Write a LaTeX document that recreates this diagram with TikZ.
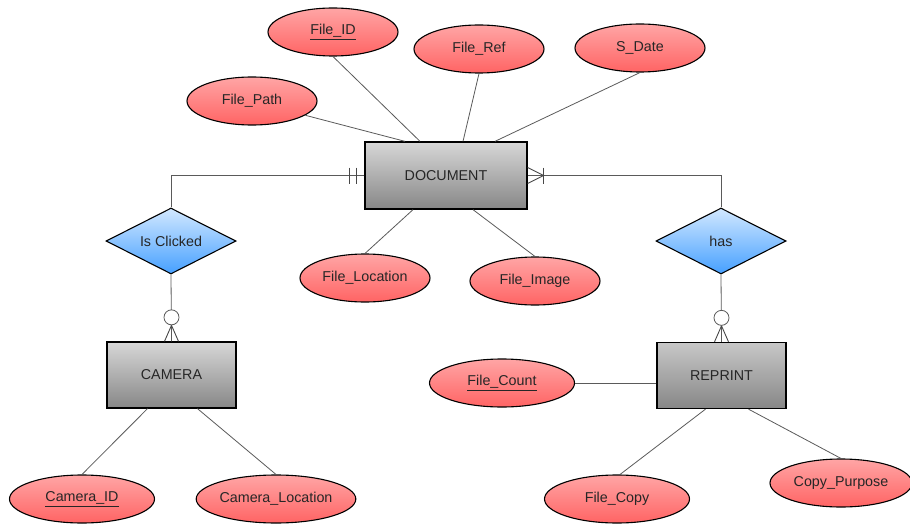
\documentclass[tikz,border=0pt]{standalone}
\usepackage{fontspec}
\setmainfont{Liberation Sans}
\usetikzlibrary{shapes.geometric,calc}

\definecolor{attrtop}{RGB}{255,165,165}
\definecolor{attrbot}{RGB}{255,100,100}
\definecolor{enttop}{RGB}{215,215,215}
\definecolor{entbot}{RGB}{135,135,135}
\definecolor{reltop}{RGB}{210,232,255}
\definecolor{relbot}{RGB}{70,160,255}
\definecolor{wire}{RGB}{90,90,90}

\begin{document}
\begin{tikzpicture}[x=1pt,y=-1pt,
  lbl/.style={font=\fontsize{14.3}{16}\selectfont, text=black!85},
  attr/.style={lbl, ellipse, draw=black, line width=1.1pt,
    top color=attrtop, bottom color=attrbot,
    minimum width=130pt, minimum height=48pt, inner sep=0pt},
  wideattr/.style={attr, minimum width=145pt},
  entity/.style={lbl, rectangle, draw=black, line width=1.3pt,
    top color=enttop, bottom color=entbot,
    minimum width=129pt, minimum height=66pt, inner sep=0pt},
  rel/.style={lbl, diamond, draw=black, line width=1.1pt,
    top color=reltop, bottom color=relbot,
    minimum width=130pt, minimum height=66pt, inner sep=0pt, aspect=2},
  link/.style={draw=wire, line width=0.8pt},
  cardmark/.style={draw=wire!80!black, line width=0.9pt},
  optcircle/.style={circle, draw=wire, line width=0.8pt, fill=white,
    minimum size=15pt, inner sep=0pt}
]
\useasboundingbox (0,0) rectangle (910,524);

% entities
\node[entity, minimum width=162pt, minimum height=67pt] (doc) at (446,175.5) {DOCUMENT};
\node[entity] (camera) at (171.5,375) {CAMERA};
\node[entity, top color=enttop!80!entbot] (reprint) at (721.5,375.5) {REPRINT};

% relationships
\node[rel] (clicked) at (171,241) {Is Clicked};
\node[rel] (has) at (721,241) {has};

% attributes of DOCUMENT
\node[attr] (fileid) at (333,32) {\underline{File\_ID}};
\node[attr] (fileref) at (479,49) {File\_Ref};
\node[attr] (sdate) at (640,48) {S\_Date};
\node[attr] (filepath) at (252,101) {File\_Path};
\node[attr] (fileloc) at (365,278) {File\_Location};
\node[attr] (fileimg) at (535,281) {File\_Image};

% attributes of CAMERA
\node[wideattr] (cameraid) at (82,499) {\underline{Camera\_ID}};
\node[wideattr] (cameraloc) at (276,499) {Camera\_Location};

% attributes of REPRINT
\node[wideattr] (filecount) at (502,383) {\underline{File\_Count}};
\node[wideattr] (filecopy) at (617,499) {File\_Copy};
\node[wideattr, minimum width=142pt] (copypurpose) at (841,483) {Copy\_Purpose};

% attribute links
\draw[link] (fileid.south) -- ([xshift=-26pt]doc.north);
\draw[link] (filepath.-15) -- ([xshift=-41pt]doc.north);
\draw[link] (fileref.south) -- ([xshift=17pt]doc.north);
\draw[link] (sdate.south) -- ([xshift=49pt]doc.north);
\draw[link] (fileloc.north) -- ([xshift=-33pt]doc.south);
\draw[link] (fileimg.north) -- ([xshift=27pt]doc.south);
\draw[link] ([xshift=-24pt]camera.south) -- (cameraid.north);
\draw[link] ([xshift=26pt]camera.south) -- (cameraloc.north);
\draw[link] (filecount.east) -- (filecount.east -| reprint.west);
\draw[link] ([xshift=-16pt]reprint.south) -- (filecopy.83);
\draw[link] ([xshift=27pt]reprint.south) -- (copypurpose.north);

% DOCUMENT -- Is Clicked (exactly one at DOCUMENT)
\draw[link] (doc.west) -| (clicked.north);
\draw[cardmark] ($(doc.west)+(-8,-8)$) -- ($(doc.west)+(-8,8)$);
\draw[cardmark] ($(doc.west)+(-15,-8)$) -- ($(doc.west)+(-15,8)$);

% DOCUMENT -- has (one or many at DOCUMENT)
\draw[link] (doc.east) -| (has.north);
\draw[cardmark] ($(doc.east)+(0,-8)$) -- ($(doc.east)+(16,0)$) -- ($(doc.east)+(0,8)$);
\draw[cardmark] ($(doc.east)+(16,-8)$) -- ($(doc.east)+(16,8)$);

% Is Clicked -- CAMERA (zero or many at CAMERA)
\draw[link] (clicked.south) -- (camera.north);
\draw[cardmark] ($(camera.north)+(-7,0)$) -- ($(camera.north)+(0,-16)$) -- ($(camera.north)+(7,0)$);
\node[optcircle] (camopt) at ($(camera.north)+(0,-24)$) {};

% has -- REPRINT (zero or many at REPRINT)
\draw[link] (has.south) -- (reprint.north);
\draw[cardmark] ($(reprint.north)+(-7,0)$) -- ($(reprint.north)+(0,-16)$) -- ($(reprint.north)+(7,0)$);
\node[optcircle] (repopt) at ($(reprint.north)+(0,-24)$) {};
\end{tikzpicture}
\end{document}
